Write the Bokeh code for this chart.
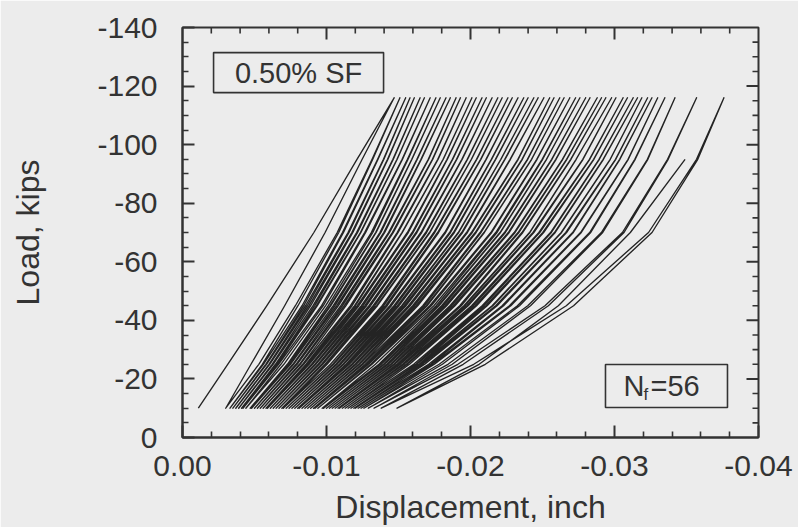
from bokeh.plotting import figure
from bokeh.models import Range1d, FixedTicker, PrintfTickFormatter
from bokeh.core.properties import value
from bokeh.embed import file_html
from bokeh.resources import INLINE

# ---------------- data ----------------
LOAD_MIN = -10.0     # kips, lower load of every cycle
LOAD_MAX = -116.0    # kips, upper load of every cycle

# displacement (inch) at the lower load, start of each cycle (57 = final loading)
VALLEY_DISP = [
    -0.0011, -0.0030, -0.0033, -0.0035, -0.0037, -0.0039, -0.0041, -0.0042, -0.0044, -0.0047,
    -0.0048, -0.0050, -0.0052, -0.0054, -0.0056, -0.0058, -0.0059, -0.0061, -0.0063, -0.0065,
    -0.0067, -0.0069, -0.0070, -0.0072, -0.0074, -0.0076, -0.0078, -0.0080, -0.0081, -0.0083,
    -0.0085, -0.0087, -0.0089, -0.0091, -0.0092, -0.0094, -0.0097, -0.0098, -0.0100, -0.0102,
    -0.0104, -0.0106, -0.0108, -0.0109, -0.0111, -0.0113, -0.0115, -0.0117, -0.0119, -0.0120,
    -0.0122, -0.0124, -0.0126, -0.0129, -0.0133, -0.0138, -0.0149,
]
# displacement (inch) at the upper load of each cycle
PEAK_DISP = [
    -0.0147, -0.0151, -0.0155, -0.0158, -0.0161, -0.0165, -0.0168, -0.0172, -0.0176, -0.0179,
    -0.0183, -0.0186, -0.0190, -0.0193, -0.0197, -0.0201, -0.0204, -0.0208, -0.0211, -0.0215,
    -0.0219, -0.0222, -0.0226, -0.0229, -0.0233, -0.0237, -0.0240, -0.0244, -0.0247, -0.0251,
    -0.0255, -0.0258, -0.0262, -0.0265, -0.0269, -0.0273, -0.0276, -0.0280, -0.0283, -0.0288,
    -0.0291, -0.0294, -0.0298, -0.0301, -0.0306, -0.0309, -0.0313, -0.0316, -0.0319, -0.0323,
    -0.0326, -0.0330, -0.0335, -0.0342, -0.0357, -0.0376,
]
# loads at which the branch shape was read
SHAPE_LOADS = [-25.0, -45.0, -70.0, -95.0]
# fraction of each cycle's displacement span reached at -25, -45, -70, -95 kips
SHAPE_25 = [
    .15, .19, .19, .19, .19, .19, .19, .19, .20, .20,
    .20, .20, .20, .20, .20, .20, .20, .20, .20, .20,
    .20, .20, .21, .21, .21, .21, .21, .21, .21, .21,
    .21, .21, .21, .21, .21, .21, .22, .22, .22, .22,
    .22, .22, .22, .22, .22, .22, .23, .23, .23, .23,
    .24, .24, .25, .26, .26, .27,
]
SHAPE_45 = [
    .35, .40, .41, .41, .41, .41, .41, .42, .42, .42,
    .42, .42, .42, .42, .43, .43, .43, .43, .43, .43,
    .43, .43, .44, .44, .44, .44, .44, .44, .44, .44,
    .44, .44, .45, .45, .45, .45, .45, .45, .45, .45,
    .45, .46, .46, .46, .46, .46, .47, .47, .48, .48,
    .49, .50, .51, .52, .53, .54,
]
SHAPE_70 = [
    .59, .64, .64, .65, .65, .65, .65, .65, .66, .66,
    .66, .66, .66, .66, .66, .66, .67, .67, .67, .67,
    .67, .67, .67, .67, .68, .68, .68, .68, .68, .68,
    .68, .68, .68, .68, .69, .69, .69, .69, .69, .69,
    .69, .69, .70, .70, .70, .70, .71, .71, .72, .72,
    .73, .74, .75, .76, .77, .78,
]
SHAPE_95 = [
    .81, .84, .84, .85, .85, .85, .85, .85, .85, .85,
    .85, .85, .86, .86, .86, .86, .86, .86, .86, .86,
    .86, .86, .86, .86, .86, .86, .86, .86, .86, .86,
    .87, .87, .87, .87, .87, .87, .87, .87, .87, .87,
    .87, .87, .87, .88, .88, .88, .88, .88, .89, .89,
    .89, .90, .90, .91, .91, .92,
]
# last (failure) loading branch
FAIL_LOAD = [-10.0, -25.0, -45.0, -70.0, -95.0]
FAIL_DISP = [-0.0149, -0.0206, -0.0261, -0.0311, -0.0349]

X_TICKS = [0.0, -0.01, -0.02, -0.03, -0.04]
X_MINOR = [-0.002, -0.004, -0.006, -0.008, -0.012, -0.014, -0.016, -0.018,
           -0.022, -0.024, -0.026, -0.028, -0.032, -0.034, -0.036, -0.038]
Y_TICKS = [0, -20, -40, -60, -80, -100, -120, -140]
Y_MINOR = [-5, -10, -15, -25, -30, -35, -45, -50, -55, -65, -70, -75, -85, -90,
           -95, -105, -110, -115, -125, -130, -135]

assert len(PEAK_DISP) == 56 and len(VALLEY_DISP) == 57
assert len(SHAPE_25) == len(SHAPE_45) == len(SHAPE_70) == len(SHAPE_95) == 56

# ---------------- build the load path ----------------
xs, ys = [], []
for k in range(len(PEAK_DISP)):
    v, pk, w = VALLEY_DISP[k], PEAK_DISP[k], VALLEY_DISP[k + 1]
    fr = [SHAPE_25[k], SHAPE_45[k], SHAPE_70[k], SHAPE_95[k]]
    xs.append(v); ys.append(LOAD_MIN)
    for f, L in zip(fr, SHAPE_LOADS):
        xs.append(v + f * (pk - v)); ys.append(L)
    xs.append(pk); ys.append(LOAD_MAX)
    for f, L in reversed(list(zip(fr, SHAPE_LOADS))):
        xs.append(w + f * (pk - w)); ys.append(L)
xs.extend(FAIL_DISP); ys.extend(FAIL_LOAD)

# ---------------- figure ----------------
BG = "#ececec"
AX = "#333333"
TXT = "#333333"
FONT = "Liberation Sans"
X0, X1, Y0, Y1 = 0.0, -0.04, 0.0, -140.0

p = figure(width=798, height=527,
           x_range=Range1d(X0, X1), y_range=Range1d(Y0, Y1),
           output_backend="svg", toolbar_location=None,
           min_border_left=182, min_border_right=40,
           min_border_top=27, min_border_bottom=90,
           background_fill_color=BG, border_fill_color=BG,
           outline_line_color=AX, outline_line_width=2)
p.grid.visible = False

p.line(xs, ys, line_color="#242424", line_width=1.35, line_join="round")


def style_axis(ax, ticks, minor, font_size, standoff):
    ax.ticker = FixedTicker(ticks=ticks, minor_ticks=minor)
    ax.major_tick_in = 12
    ax.major_tick_out = 0
    ax.minor_tick_in = 6
    ax.minor_tick_out = 0
    ax.major_tick_line_color = AX
    ax.major_tick_line_width = 2
    ax.minor_tick_line_color = AX
    ax.minor_tick_line_width = 1.6
    ax.axis_line_color = AX
    ax.axis_line_width = 2
    ax.major_label_text_font = FONT
    ax.major_label_text_color = TXT
    ax.major_label_text_font_size = font_size
    ax.major_label_standoff = standoff
    ax.axis_label_text_font = FONT
    ax.axis_label_text_color = TXT
    ax.axis_label_text_font_style = "normal"
    ax.axis_label_text_font_size = "32px"


xa = p.xaxis[0]
style_axis(xa, X_TICKS, X_MINOR, "30px", 18)
xa.formatter = PrintfTickFormatter(format="%.2f")
xa.axis_label = "Displacement, inch"
xa.axis_label_standoff = 10

ya = p.yaxis[0]
style_axis(ya, Y_TICKS, Y_MINOR, "30px", 25)
ya.formatter = PrintfTickFormatter(format="%d")
ya.axis_label = "Load, kips"
ya.axis_label_standoff = 48

# inward tick marks on the top and right edges of the frame (length in data units)
MAJ_X = -12 * (X0 - X1) / 576   # 12 px along x, towards the inside
MIN_X = -6 * (X0 - X1) / 576
MAJ_Y = -12 * (Y0 - Y1) / 410   # 12 px along y, towards the inside
MIN_Y = -6 * (Y0 - Y1) / 410


def ticks_top(vals, ln, width):
    p.segment(x0=vals, y0=[Y1] * len(vals), x1=vals, y1=[Y1 - ln] * len(vals),
              line_color=AX, line_width=width)


def ticks_right(vals, ln, width):
    p.segment(x0=[X1] * len(vals), y0=vals, x1=[X1 - ln] * len(vals), y1=vals,
              line_color=AX, line_width=width)


ticks_top(X_TICKS[1:-1], MAJ_Y, 2)
ticks_top(X_MINOR, MIN_Y, 1.6)
ticks_right(Y_TICKS[1:-1], MAJ_X, 2)
ticks_right(Y_MINOR, MIN_X, 1.6)

# ---------------- annotations ----------------
p.rect(x=[-0.00806], y=[-124.6], width=170, height=40,
       width_units="screen", height_units="screen",
       fill_color=BG, line_color=AX, line_width=1.6)
p.text(x=[-0.00806], y=[-124.6], text=["0.50% SF"],
       text_font=value(FONT), text_font_size="29px", text_color=TXT,
       text_align="center", text_baseline="middle")

p.rect(x=[-0.03361], y=[-17.6], width=122, height=43,
       width_units="screen", height_units="screen",
       fill_color=BG, line_color=AX, line_width=1.6)
p.text(x=[-0.03361], y=[-17.6], text=["N"], x_offset=-22,
       text_font=value(FONT), text_font_size="29px", text_color=TXT,
       text_align="right", text_baseline="middle")
p.text(x=[-0.03361], y=[-17.6], text=["f"], x_offset=-23, y_offset=9,
       text_font=value(FONT), text_font_size="17px", text_color=TXT,
       text_align="left", text_baseline="middle")
p.text(x=[-0.03361], y=[-17.6], text=["=56"], x_offset=-16,
       text_font=value(FONT), text_font_size="29px", text_color=TXT,
       text_align="left", text_baseline="middle")

open("out.html", "w").write(file_html(p, INLINE))
